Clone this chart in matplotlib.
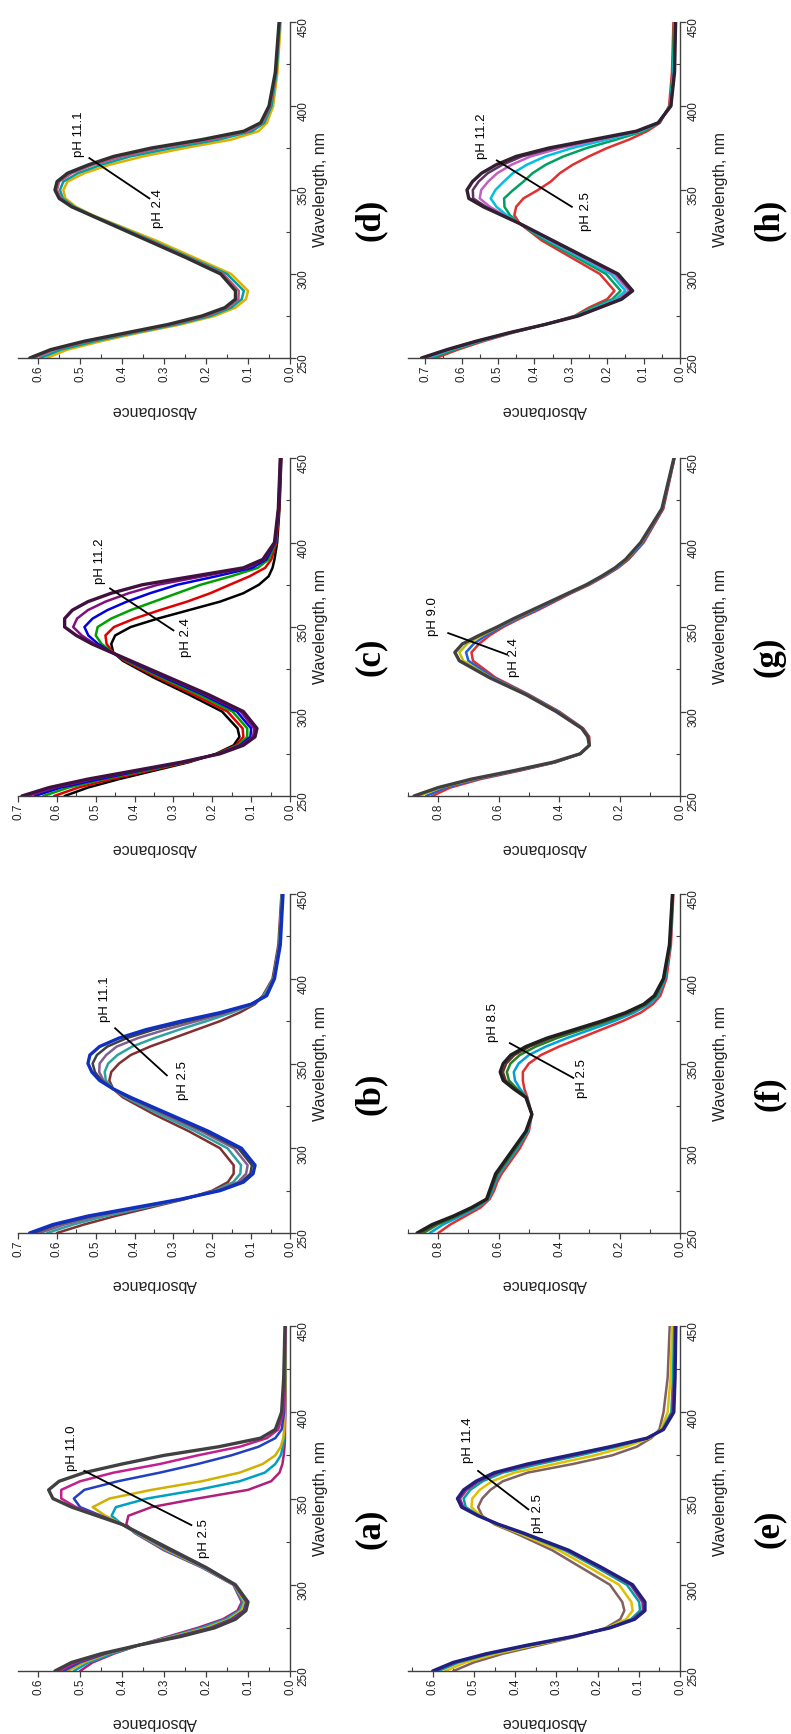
import matplotlib.pyplot as plt
from matplotlib.ticker import MultipleLocator, FormatStrFormatter

plt.rcParams['font.family'] = ['Liberation Sans', 'DejaVu Sans']

# длины волн, нм (общая сетка для всех спектров)
wavelength = [250, 255, 260, 265, 270, 275, 280, 285, 290, 300, 310, 320, 330, 335,
              340, 345, 350, 355, 360, 365, 370, 375, 380, 385, 390, 400, 420, 450]

# (a) pH 2.5 -> 11.0
ph_a = ['2.5', '11.0']
abs_a = [
    [0.50, 0.47, 0.42, 0.36, 0.29, 0.22, 0.16, 0.125, 0.115, 0.135, 0.21, 0.30, 0.37, 0.39,
     0.385, 0.33, 0.22, 0.10, 0.045, 0.025, 0.018, 0.015, 0.013, 0.012, 0.012, 0.011, 0.010, 0.010],
    [0.515, 0.48, 0.425, 0.36, 0.283, 0.21, 0.153, 0.12, 0.112, 0.134, 0.208, 0.296, 0.368, 0.40,
     0.425, 0.415, 0.34, 0.22, 0.12, 0.06, 0.035, 0.022, 0.017, 0.014, 0.013, 0.012, 0.011, 0.010],
    [0.53, 0.49, 0.435, 0.36, 0.277, 0.20, 0.146, 0.116, 0.108, 0.133, 0.205, 0.292, 0.365, 0.40,
     0.44, 0.47, 0.43, 0.33, 0.21, 0.12, 0.065, 0.035, 0.022, 0.016, 0.014, 0.012, 0.011, 0.010],
    [0.54, 0.50, 0.44, 0.36, 0.27, 0.19, 0.14, 0.11, 0.104, 0.132, 0.203, 0.287, 0.363, 0.40,
     0.45, 0.50, 0.515, 0.49, 0.41, 0.31, 0.22, 0.14, 0.075, 0.035, 0.02, 0.014, 0.012, 0.011],
    [0.55, 0.51, 0.445, 0.36, 0.265, 0.185, 0.135, 0.107, 0.102, 0.131, 0.201, 0.283, 0.361, 0.40,
     0.455, 0.51, 0.545, 0.545, 0.50, 0.42, 0.31, 0.22, 0.12, 0.055, 0.028, 0.016, 0.013, 0.011],
    [0.56, 0.52, 0.45, 0.36, 0.26, 0.18, 0.13, 0.105, 0.10, 0.13, 0.20, 0.28, 0.36, 0.40,
     0.46, 0.52, 0.565, 0.575, 0.55, 0.49, 0.40, 0.30, 0.17, 0.07, 0.035, 0.02, 0.015, 0.012],
]

# (b) pH 2.5 -> 11.1
ph_b = ['2.5', '11.1']
abs_b = [
    [0.60, 0.53, 0.45, 0.36, 0.27, 0.20, 0.16, 0.145, 0.145, 0.18, 0.26, 0.35, 0.43, 0.455,
     0.465, 0.46, 0.44, 0.41, 0.36, 0.30, 0.24, 0.18, 0.13, 0.09, 0.07, 0.045, 0.03, 0.022],
    [0.625, 0.558, 0.475, 0.374, 0.273, 0.193, 0.146, 0.128, 0.126, 0.161, 0.243, 0.336, 0.423, 0.455,
     0.474, 0.477, 0.468, 0.444, 0.406, 0.349, 0.285, 0.215, 0.15, 0.095, 0.068, 0.043, 0.028, 0.021],
    [0.645, 0.58, 0.495, 0.386, 0.276, 0.187, 0.134, 0.113, 0.109, 0.144, 0.228, 0.324, 0.417, 0.455,
     0.48, 0.491, 0.49, 0.473, 0.446, 0.391, 0.32, 0.24, 0.162, 0.097, 0.064, 0.042, 0.027, 0.02],
    [0.66, 0.60, 0.51, 0.394, 0.278, 0.183, 0.126, 0.102, 0.098, 0.133, 0.219, 0.316, 0.414, 0.455,
     0.485, 0.502, 0.508, 0.497, 0.47, 0.42, 0.35, 0.262, 0.172, 0.099, 0.062, 0.041, 0.026, 0.019],
    [0.67, 0.61, 0.52, 0.40, 0.28, 0.18, 0.12, 0.095, 0.09, 0.125, 0.21, 0.31, 0.41, 0.455,
     0.49, 0.51, 0.52, 0.515, 0.49, 0.44, 0.37, 0.28, 0.18, 0.10, 0.06, 0.04, 0.025, 0.018],
]

# (c) pH 2.4 -> 11.2
ph_c = ['2.4', '11.2']
abs_c = [
    [0.58, 0.52, 0.44, 0.35, 0.26, 0.19, 0.145, 0.13, 0.135, 0.175, 0.26, 0.35, 0.43, 0.455,
     0.46, 0.45, 0.41, 0.34, 0.26, 0.18, 0.12, 0.08, 0.055, 0.045, 0.04, 0.033, 0.027, 0.022],
    [0.607, 0.545, 0.46, 0.362, 0.265, 0.187, 0.139, 0.12, 0.122, 0.161, 0.248, 0.34, 0.425, 0.456,
     0.472, 0.475, 0.453, 0.40, 0.335, 0.265, 0.205, 0.155, 0.104, 0.064, 0.048, 0.035, 0.028, 0.023],
    [0.635, 0.57, 0.48, 0.375, 0.27, 0.185, 0.133, 0.11, 0.11, 0.148, 0.235, 0.33, 0.42, 0.457,
     0.485, 0.50, 0.495, 0.46, 0.41, 0.35, 0.29, 0.23, 0.152, 0.083, 0.055, 0.037, 0.029, 0.024],
    [0.657, 0.59, 0.49, 0.385, 0.274, 0.183, 0.128, 0.102, 0.10, 0.137, 0.224, 0.322, 0.416, 0.459,
     0.494, 0.519, 0.529, 0.508, 0.47, 0.42, 0.36, 0.29, 0.19, 0.097, 0.061, 0.038, 0.029, 0.024],
    [0.675, 0.605, 0.507, 0.393, 0.277, 0.181, 0.124, 0.095, 0.092, 0.127, 0.217, 0.315, 0.413, 0.46,
     0.503, 0.536, 0.558, 0.548, 0.52, 0.475, 0.415, 0.34, 0.225, 0.11, 0.066, 0.039, 0.03, 0.025],
    [0.69, 0.62, 0.52, 0.40, 0.28, 0.18, 0.12, 0.09, 0.085, 0.12, 0.21, 0.31, 0.41, 0.46,
     0.51, 0.55, 0.58, 0.58, 0.56, 0.52, 0.46, 0.38, 0.25, 0.12, 0.07, 0.04, 0.03, 0.025],
]

# (d) pH 2.4 -> 11.1
ph_d = ['2.4', '11.1']
abs_d = [
    [0.58, 0.53, 0.45, 0.36, 0.26, 0.18, 0.13, 0.105, 0.10, 0.14, 0.23, 0.32, 0.42, 0.47,
     0.51, 0.535, 0.54, 0.53, 0.49, 0.43, 0.35, 0.25, 0.14, 0.075, 0.055, 0.04, 0.03, 0.022],
    [0.595, 0.545, 0.465, 0.37, 0.27, 0.19, 0.14, 0.115, 0.11, 0.15, 0.24, 0.33, 0.424, 0.472,
     0.514, 0.541, 0.548, 0.54, 0.505, 0.45, 0.38, 0.28, 0.17, 0.09, 0.061, 0.044, 0.032, 0.024],
    [0.61, 0.56, 0.48, 0.38, 0.28, 0.20, 0.149, 0.123, 0.122, 0.159, 0.245, 0.335, 0.428, 0.474,
     0.517, 0.546, 0.555, 0.55, 0.52, 0.47, 0.40, 0.31, 0.19, 0.10, 0.066, 0.047, 0.034, 0.025],
    [0.62, 0.57, 0.49, 0.39, 0.29, 0.21, 0.155, 0.13, 0.13, 0.165, 0.25, 0.34, 0.43, 0.475,
     0.52, 0.55, 0.56, 0.555, 0.53, 0.48, 0.42, 0.33, 0.21, 0.11, 0.07, 0.05, 0.035, 0.026],
]

# (e) pH 2.5 -> 11.4
ph_e = ['2.5', '11.4']
abs_e = [
    [0.55, 0.50, 0.43, 0.34, 0.25, 0.18, 0.145, 0.135, 0.14, 0.17, 0.24, 0.31, 0.40, 0.45,
     0.48, 0.49, 0.48, 0.46, 0.43, 0.37, 0.26, 0.165, 0.105, 0.07, 0.05, 0.04, 0.03, 0.025],
    [0.57, 0.52, 0.446, 0.352, 0.254, 0.176, 0.131, 0.115, 0.118, 0.148, 0.22, 0.294, 0.392, 0.446,
     0.484, 0.506, 0.504, 0.486, 0.456, 0.402, 0.304, 0.207, 0.131, 0.074, 0.046, 0.03, 0.023, 0.019],
    [0.587, 0.537, 0.46, 0.362, 0.257, 0.172, 0.119, 0.097, 0.099, 0.129, 0.202, 0.28, 0.385, 0.442,
     0.487, 0.52, 0.525, 0.509, 0.479, 0.43, 0.342, 0.244, 0.154, 0.078, 0.043, 0.021, 0.017, 0.014],
    [0.595, 0.545, 0.466, 0.367, 0.259, 0.171, 0.114, 0.09, 0.091, 0.12, 0.195, 0.274, 0.382, 0.441,
     0.489, 0.526, 0.534, 0.518, 0.489, 0.442, 0.359, 0.26, 0.164, 0.079, 0.041, 0.018, 0.014, 0.012],
    [0.60, 0.55, 0.47, 0.37, 0.26, 0.17, 0.11, 0.085, 0.085, 0.115, 0.19, 0.27, 0.38, 0.44,
     0.49, 0.53, 0.54, 0.525, 0.495, 0.45, 0.37, 0.27, 0.17, 0.08, 0.04, 0.015, 0.012, 0.010],
]

# (f) pH 2.5 -> 8.5
ph_f = ['2.5', '8.5']
abs_f = [
    [0.80, 0.76, 0.71, 0.66, 0.63, 0.615, 0.605, 0.59, 0.57, 0.53, 0.50, 0.49, 0.505, 0.515,
     0.52, 0.52, 0.50, 0.46, 0.40, 0.33, 0.26, 0.19, 0.13, 0.09, 0.065, 0.045, 0.03, 0.022],
    [0.828, 0.784, 0.726, 0.672, 0.634, 0.621, 0.611, 0.598, 0.578, 0.538, 0.504, 0.49, 0.507, 0.529,
     0.546, 0.55, 0.534, 0.50, 0.444, 0.374, 0.296, 0.218, 0.152, 0.102, 0.073, 0.049, 0.032, 0.023],
    [0.849, 0.802, 0.738, 0.681, 0.637, 0.625, 0.615, 0.603, 0.583, 0.543, 0.507, 0.49, 0.508, 0.539,
     0.566, 0.573, 0.561, 0.53, 0.477, 0.407, 0.323, 0.239, 0.165, 0.111, 0.079, 0.052, 0.033, 0.024],
    [0.862, 0.813, 0.745, 0.686, 0.639, 0.628, 0.618, 0.607, 0.587, 0.548, 0.509, 0.49, 0.509, 0.546,
     0.577, 0.586, 0.575, 0.548, 0.498, 0.428, 0.339, 0.251, 0.173, 0.116, 0.082, 0.054, 0.034, 0.025],
    [0.87, 0.82, 0.75, 0.69, 0.64, 0.63, 0.62, 0.61, 0.59, 0.55, 0.51, 0.49, 0.51, 0.55,
     0.585, 0.595, 0.585, 0.56, 0.51, 0.44, 0.35, 0.26, 0.18, 0.12, 0.085, 0.055, 0.035, 0.025],
]

# (g) pH 2.4 -> 9.0
ph_g = ['2.4', '9.0']
abs_g = [
    [0.82, 0.76, 0.66, 0.53, 0.41, 0.33, 0.30, 0.30, 0.32, 0.40, 0.50, 0.61, 0.685, 0.69,
     0.665, 0.63, 0.585, 0.53, 0.47, 0.415, 0.36, 0.30, 0.25, 0.205, 0.17, 0.12, 0.055, 0.018],
    [0.84, 0.775, 0.67, 0.537, 0.413, 0.33, 0.30, 0.302, 0.322, 0.403, 0.503, 0.617, 0.70, 0.708,
     0.683, 0.642, 0.592, 0.537, 0.477, 0.42, 0.364, 0.304, 0.253, 0.208, 0.172, 0.123, 0.057, 0.019],
    [0.865, 0.79, 0.68, 0.545, 0.417, 0.33, 0.30, 0.304, 0.324, 0.407, 0.507, 0.625, 0.717, 0.73,
     0.705, 0.655, 0.60, 0.545, 0.485, 0.427, 0.367, 0.307, 0.257, 0.212, 0.177, 0.127, 0.059, 0.02],
    [0.88, 0.80, 0.69, 0.55, 0.42, 0.33, 0.30, 0.305, 0.325, 0.41, 0.51, 0.63, 0.73, 0.745,
     0.72, 0.665, 0.605, 0.55, 0.49, 0.43, 0.37, 0.31, 0.26, 0.215, 0.18, 0.13, 0.06, 0.02],
]

# (h) pH 2.5 -> 11.2
ph_h = ['2.5', '11.2']
abs_h = [
    [0.67, 0.61, 0.54, 0.46, 0.37, 0.29, 0.25, 0.20, 0.18, 0.22, 0.30, 0.38, 0.44, 0.455,
     0.45, 0.43, 0.39, 0.355, 0.33, 0.295, 0.25, 0.20, 0.14, 0.09, 0.055, 0.03, 0.022, 0.018],
    [0.684, 0.62, 0.547, 0.464, 0.37, 0.287, 0.24, 0.186, 0.163, 0.203, 0.286, 0.37, 0.44, 0.467,
     0.482, 0.483, 0.458, 0.43, 0.405, 0.369, 0.32, 0.256, 0.175, 0.10, 0.057, 0.028, 0.02, 0.016],
    [0.694, 0.628, 0.552, 0.466, 0.37, 0.284, 0.232, 0.176, 0.15, 0.19, 0.276, 0.362, 0.44, 0.476,
     0.504, 0.52, 0.507, 0.484, 0.459, 0.421, 0.37, 0.296, 0.20, 0.108, 0.058, 0.027, 0.018, 0.014],
    [0.702, 0.634, 0.556, 0.468, 0.37, 0.282, 0.226, 0.168, 0.14, 0.18, 0.268, 0.356, 0.44, 0.483,
     0.522, 0.55, 0.546, 0.527, 0.502, 0.463, 0.41, 0.328, 0.22, 0.114, 0.059, 0.026, 0.016, 0.013],
    [0.707, 0.638, 0.558, 0.469, 0.37, 0.281, 0.222, 0.163, 0.134, 0.174, 0.263, 0.352, 0.44, 0.487,
     0.533, 0.568, 0.569, 0.553, 0.528, 0.488, 0.434, 0.347, 0.232, 0.118, 0.06, 0.025, 0.016, 0.013],
    [0.71, 0.64, 0.56, 0.47, 0.37, 0.28, 0.22, 0.16, 0.13, 0.17, 0.26, 0.35, 0.44, 0.49,
     0.54, 0.58, 0.585, 0.57, 0.545, 0.505, 0.45, 0.36, 0.24, 0.12, 0.06, 0.025, 0.015, 0.012],
]

panels = {'a': (abs_a, ph_a), 'b': (abs_b, ph_b), 'c': (abs_c, ph_c), 'd': (abs_d, ph_d),
          'e': (abs_e, ph_e), 'f': (abs_f, ph_f), 'g': (abs_g, ph_g), 'h': (abs_h, ph_h)}

# оформление: предел оси поглощения, шаг делений, цвета кривых (от низкого pH к высокому)
style = {
    'a': (0.648, 0.1, ['#b0207a', '#00a0c0', '#d0b000', '#2040c0', '#c02090', '#404040']),
    'b': (0.70, 0.1, ['#803030', '#30a0a0', '#806090', '#404040', '#1030c0']),
    'c': (0.70, 0.1, ['#000000', '#e00000', '#00a000', '#0000e0', '#801080', '#401040']),
    'd': (0.648, 0.1, ['#e0b000', '#00a0a0', '#c05080', '#303030']),
    'e': (0.66, 0.1, ['#806060', '#e0c000', '#00a0a0', '#a02080', '#202080']),
    'f': (0.90, 0.2, ['#e03030', '#00a0e0', '#208020', '#603030', '#202020']),
    'g': (0.90, 0.2, ['#e03030', '#2060e0', '#c0c000', '#404040']),
    'h': (0.747, 0.1, ['#e03030', '#00a060', '#00c0e0', '#c060c0', '#603060', '#302030']),
}

# положение стрелки и подписей pH (в координатах данных: поглощение, длина волны)
arrows = {
    'a': ((0.49, 366), (0.235, 334.6), (0.52, 379), (0.205, 327)),
    'b': ((0.45, 370.8), (0.317, 343), (0.475, 388), (0.275, 340)),
    'c': ((0.463, 372.8), (0.30, 348), (0.49, 389), (0.268, 344)),
    'd': ((0.478, 369), (0.335, 345), (0.503, 383), (0.315, 339)),
    'e': ((0.49, 366), (0.368, 343.7), (0.514, 384), (0.344, 341)),
    'f': ((0.563, 362), (0.353, 341.5), (0.618, 374), (0.324, 341)),
    'g': ((0.767, 346.4), (0.574, 333.8), (0.817, 356), (0.55, 332)),
    'h': ((0.503, 367.6), (0.297, 340), (0.544, 382), (0.258, 337)),
}

FIG_W, FIG_H = 791, 1734
fig = plt.figure(figsize=(FIG_W / 100, FIG_H / 100), dpi=100)

rows = [(22, 358), (458, 796), (894, 1233), (1326, 1671)]
cols = [(18, 290, 320, 370), (408, 680, 720, 769)]
grid = [['d', 'h'], ['c', 'g'], ['b', 'f'], ['a', 'e']]

for r, (top, bot) in enumerate(rows):
    for c, (left, right, x_wl, x_lab) in enumerate(cols):
        key = grid[r][c]
        curves, ph = panels[key]
        xmax, step, colors = style[key]
        ax = fig.add_axes([left / FIG_W, 1 - bot / FIG_H, (right - left) / FIG_W, (bot - top) / FIG_H])

        n = len(curves)
        for i, (y, col) in enumerate(zip(curves, colors)):
            lw = 2.4 if i == n - 1 else 1.8
            ax.plot(y, wavelength, color=col, lw=lw, solid_capstyle='round', solid_joinstyle='round')

        (a1, w1), (a2, w2), (ah, wh), (al, wlo) = arrows[key]
        ax.plot([a1, a2], [w1, w2], color='black', lw=1.3)
        ax.text(ah, wh, 'pH ' + ph[1], rotation=90, ha='center', va='center', fontsize=9.5)
        ax.text(al, wlo, 'pH ' + ph[0], rotation=90, ha='center', va='center', fontsize=9.5)

        ax.set_xlim(xmax, 0)
        ax.set_ylim(250, 450)
        for s in ['top', 'left']:
            ax.spines[s].set_visible(False)
        for s in ['bottom', 'right']:
            ax.spines[s].set_color('#404040')
            ax.spines[s].set_linewidth(1.0)
        ax.yaxis.tick_right()
        ax.xaxis.set_major_locator(MultipleLocator(step))
        ax.xaxis.set_minor_locator(MultipleLocator(step / 2))
        ax.xaxis.set_major_formatter(FormatStrFormatter('%.1f'))
        ax.yaxis.set_major_locator(MultipleLocator(50))
        ax.yaxis.set_minor_locator(MultipleLocator(25))
        ax.tick_params(which='major', direction='out', length=4, width=0.9, color='#404040',
                       labelsize=8.5, pad=1.5, labelcolor='#222222')
        ax.tick_params(which='minor', direction='in', length=3, width=0.8, color='#404040')
        ax.tick_params(axis='x', labelrotation=90)
        ax.tick_params(axis='y', labelrotation=90)
        ax.patch.set_alpha(0)

        cx = (left + right) / 2
        cy = (top + bot) / 2
        fig.text(cx / FIG_W, 1 - (bot + 52) / FIG_H, 'Absorbance', rotation=180,
                 ha='center', va='center', fontsize=11.5, color='#222222')
        fig.text(x_wl / FIG_W, 1 - cy / FIG_H, 'Wavelength, nm', rotation=90,
                 ha='center', va='center', fontsize=11.5, color='#222222')
        fig.text(x_lab / FIG_W, 1 - (cy + 30) / FIG_H, '(' + key + ')', rotation=90,
                 ha='center', va='center', fontsize=25, fontweight='bold',
                 family=['Liberation Serif', 'DejaVu Serif'])

fig.savefig('out.png', dpi=100)
